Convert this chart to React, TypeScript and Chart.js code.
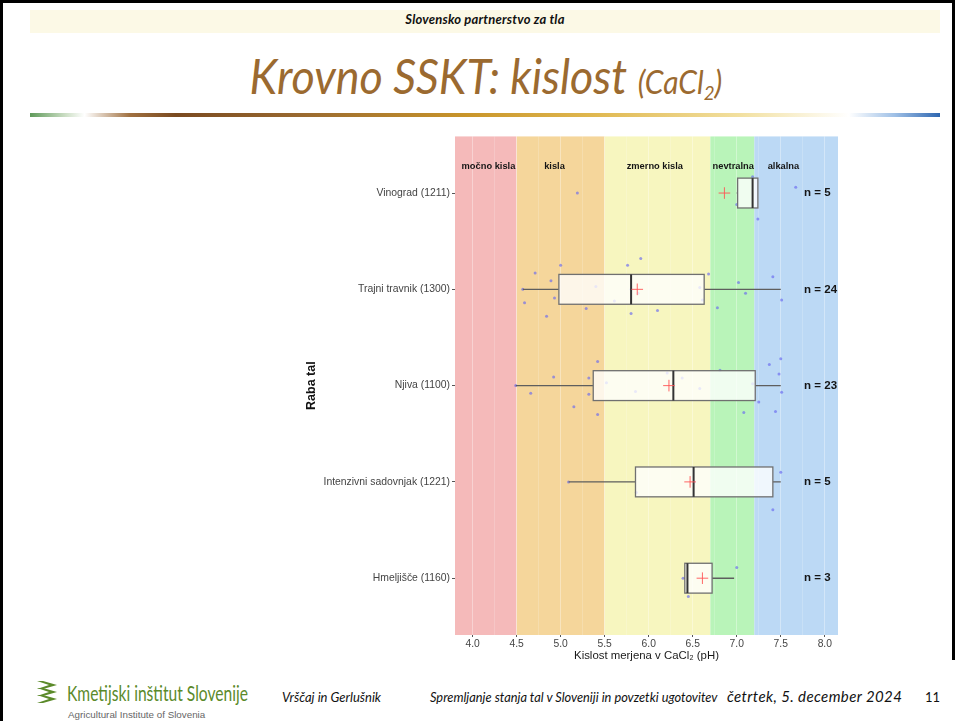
import React, { useEffect, useRef } from "react";
import { Chart, registerables } from "chart.js";

Chart.register(...registerables);

// ---------- data ----------
const categories = [
  "Vinograd (1211)",
  "Trajni travnik (1300)",
  "Njiva (1100)",
  "Intenzivni sadovnjak (1221)",
  "Hmeljišče (1160)",
];
const counts = [5, 24, 23, 5, 3];
const whiskerLow = [7.0, 4.57, 4.49, 5.09, 6.4];
const q1 = [7.01, 4.98, 5.37, 5.85, 6.41];
const median = [7.18, 5.8, 6.28, 6.51, 6.44];
const q3 = [7.24, 6.63, 7.21, 7.41, 6.72];
const whiskerHigh = [7.24, 7.5, 7.5, 7.5, 6.97];
const means = [6.86, 5.87, 6.23, 6.47, 6.61];

// jittered observations (pH) and their vertical jitter (category units)
const vinogradPH = [5.19, 7.18, 7.0, 7.24, 7.67];
const vinogradJit = [0.0, -0.17, 0.12, 0.27, -0.06];
const travnikPH = [5.0, 4.71, 4.89, 4.57, 4.93, 4.59, 4.84, 5.29, 5.4, 5.61, 5.76, 5.91, 5.8, 5.88, 6.1, 6.58, 6.61, 6.68, 6.78, 7.02, 7.1, 7.41, 7.51, 5.8];
const travnikJit = [-0.25, -0.17, -0.09, 0.0, 0.09, 0.14, 0.28, 0.2, -0.03, 0.12, -0.25, -0.32, 0.25, 0.04, 0.22, -0.02, 0.11, -0.16, 0.19, -0.07, 0.04, -0.13, 0.11, 0.0];
const njivaPH = [5.42, 4.92, 5.32, 5.52, 4.49, 4.66, 5.32, 5.15, 5.42, 5.85, 6.21, 6.38, 6.58, 6.81, 7.08, 7.18, 7.25, 7.37, 7.5, 7.48, 7.51, 7.44, 6.28];
const njivaJit = [-0.25, -0.09, -0.08, -0.03, 0.0, 0.08, 0.09, 0.22, 0.3, 0.06, -0.13, -0.08, 0.03, -0.16, 0.28, -0.02, 0.17, -0.22, -0.28, -0.12, 0.07, 0.27, 0.0];
const sadovnjakPH = [5.09, 7.5, 7.41, 5.86, 6.52];
const sadovnjakJit = [0.0, -0.1, 0.29, 0.11, 0.0];
const hmeljiscePH = [7.0, 6.39, 6.45];
const hmeljisceJit = [-0.11, 0.0, 0.19];

const observationsPH = [vinogradPH, travnikPH, njivaPH, sadovnjakPH, hmeljiscePH];
const observationsJit = [vinogradJit, travnikJit, njivaJit, sadovnjakJit, hmeljisceJit];

// acidity classes
const bandLabels = ["močno kisla", "kisla", "zmerno kisla", "nevtralna", "alkalna"];
const bandFrom = [3.0, 4.5, 5.5, 6.7, 7.2];
const bandTo = [4.5, 5.5, 6.7, 7.2, 9.0];
const bandLabelX = [4.18, 4.93, 6.07, 6.96, 7.53];
const bandColors = ["#f5baba", "#f5d69b", "#f7f6bf", "#b9f4b9", "#bcd9f5"];

const xTicks = [4.0, 4.5, 5.0, 5.5, 6.0, 6.5, 7.0, 7.5, 8.0];
const xMinorTicks = [4.25, 4.75, 5.25, 5.75, 6.25, 6.75, 7.25, 7.75];

const X_MIN = 3.8;
const X_MAX = 8.15;
const Y_MIN = -0.59;
const Y_MAX = 4.59;
const N_LABEL_X = 7.765;
const BAND_LABEL_Y = -0.275;
const BOX_HALF = 0.155;

const AXIS_FONT = "'Liberation Sans', Arial, sans-serif";

function BoxChart() {
  const ref = useRef<HTMLCanvasElement>(null);

  useEffect(() => {
    const canvas = ref.current;
    if (!canvas) return;

    const jitterData: { x: number; y: number }[] = [];
    observationsPH.forEach((arr, i) => {
      arr.forEach((v, j) => jitterData.push({ x: v, y: i + observationsJit[i][j] }));
    });
    const meanData = means.map((m, i) => ({ x: m, y: i }));

    const bandsPlugin = {
      id: "bands",
      beforeDraw(chart: any) {
        const { ctx, chartArea: a, scales } = chart;
        const x = scales.x;
        ctx.save();
        ctx.beginPath();
        ctx.rect(a.left, a.top, a.right - a.left, a.bottom - a.top);
        ctx.clip();
        for (let i = 0; i < bandFrom.length; i++) {
          const x0 = x.getPixelForValue(bandFrom[i]);
          const x1 = x.getPixelForValue(bandTo[i]);
          ctx.fillStyle = bandColors[i];
          ctx.fillRect(x0, a.top, x1 - x0, a.bottom - a.top);
        }
        ctx.restore();
      },
      beforeDatasetsDraw(chart: any) {
        const { ctx, scales } = chart;
        const x = scales.x;
        const y = scales.y;
        ctx.save();
        ctx.fillStyle = "#151515";
        ctx.textAlign = "center";
        ctx.textBaseline = "middle";
        ctx.font = `bold 9.3px ${AXIS_FONT}`;
        bandLabels.forEach((t, i) => {
          ctx.fillText(t, x.getPixelForValue(bandLabelX[i]), y.getPixelForValue(BAND_LABEL_Y));
        });
        ctx.font = `bold 11.5px ${AXIS_FONT}`;
        ctx.textAlign = "left";
        counts.forEach((n, i) => {
          ctx.fillText(`n = ${n}`, x.getPixelForValue(N_LABEL_X), y.getPixelForValue(i));
        });
        ctx.restore();
      },
      afterDatasetDraw(chart: any, args: any) {
        if (args.index !== 0) return;
        const { ctx, scales } = chart;
        const x = scales.x;
        const y = scales.y;
        ctx.save();
        for (let i = 0; i < categories.length; i++) {
          const yc = y.getPixelForValue(i);
          const yt = y.getPixelForValue(i - BOX_HALF);
          const yb = y.getPixelForValue(i + BOX_HALF);
          // whiskers
          ctx.strokeStyle = "#5e5e5e";
          ctx.lineWidth = 1.4;
          ctx.beginPath();
          ctx.moveTo(x.getPixelForValue(whiskerLow[i]), yc);
          ctx.lineTo(x.getPixelForValue(q1[i]), yc);
          ctx.moveTo(x.getPixelForValue(q3[i]), yc);
          ctx.lineTo(x.getPixelForValue(whiskerHigh[i]), yc);
          ctx.stroke();
          // box
          const xl = x.getPixelForValue(q1[i]);
          const xr = x.getPixelForValue(q3[i]);
          ctx.fillStyle = "rgba(255,255,255,0.78)";
          ctx.fillRect(xl, yt, xr - xl, yb - yt);
          ctx.strokeStyle = "#707070";
          ctx.lineWidth = 1.3;
          ctx.strokeRect(xl, yt, xr - xl, yb - yt);
          // median
          const xm = x.getPixelForValue(median[i]);
          ctx.strokeStyle = "#333";
          ctx.lineWidth = 2;
          ctx.beginPath();
          ctx.moveTo(xm, yt);
          ctx.lineTo(xm, yb);
          ctx.stroke();
        }
        ctx.restore();
      },
    };

    const chart = new Chart(canvas, {
      type: "scatter",
      data: {
        datasets: [
          {
            label: "obs",
            data: jitterData,
            order: 2,
            pointRadius: 1.5,
            pointBackgroundColor: "rgba(105,105,240,0.65)",
            pointBorderWidth: 0,
          },
          {
            label: "mean",
            data: meanData,
            order: 1,
            pointStyle: "cross",
            pointRadius: 5.8,
            pointBorderColor: "rgba(255,85,85,0.9)",
            pointBorderWidth: 1,
          },
        ],
      },
      plugins: [bandsPlugin],
      options: {
        animation: false,
        responsive: false,
        devicePixelRatio: 1,
        events: [],
        layout: { padding: { top: 8, right: 12, left: 0, bottom: 0 } },
        plugins: { legend: { display: false }, tooltip: { enabled: false } },
        scales: {
          x: {
            type: "linear",
            min: X_MIN,
            max: X_MAX,
            afterBuildTicks(scale: any) {
              scale.ticks = [...xTicks, ...xMinorTicks]
                .sort((a, b) => a - b)
                .map((v) => ({ value: v }));
            },
            afterFit(scale: any) {
              scale.height = 28;
            },
            border: { display: false },
            grid: {
              color: (c: any) =>
                xTicks.includes(c.tick?.value) ? "rgba(255,255,255,0.35)" : "rgba(255,255,255,0.18)",
              tickColor: (c: any) => (xTicks.includes(c.tick?.value) ? "#555" : "rgba(0,0,0,0)"),
              tickLength: 2,
              lineWidth: 1,
            },
            ticks: {
              autoSkip: false,
              maxRotation: 0,
              padding: 1,
              color: "#444",
              font: { family: AXIS_FONT, size: 10.3 },
              callback: (v: any) => (xTicks.includes(Number(v)) ? Number(v).toFixed(1) : ""),
            },
            title: {
              display: true,
              text: "Kislost merjena v CaCl₂ (pH)",
              color: "#1a1a1a",
              font: { family: AXIS_FONT, size: 11.4 },
              padding: { top: 0, bottom: 0 },
            },
          },
          y: {
            type: "linear",
            reverse: true,
            min: Y_MIN,
            max: Y_MAX,
            afterBuildTicks(scale: any) {
              scale.ticks = categories.map((_, i) => ({ value: i }));
            },
            afterFit(scale: any) {
              scale.width = 155;
            },
            border: { display: false },
            grid: { drawOnChartArea: false, tickColor: "#555", tickLength: 3 },
            ticks: {
              autoSkip: false,
              padding: 2,
              color: "#444",
              font: { family: AXIS_FONT, size: 10.4 },
              callback: (v: any) => categories[Number(v)] ?? "",
            },
            title: {
              display: true,
              text: "Raba tal",
              color: "#111",
              font: { family: AXIS_FONT, size: 12.5, weight: "bold" },
              padding: { top: 4, bottom: 0 },
            },
          },
        },
      },
    });
    return () => chart.destroy();
  }, []);

  return <canvas ref={ref} width={550} height={535} style={{ display: "block", width: 550, height: 535 }} />;
}

function Logo() {
  return (
    <svg width="30" height="24" viewBox="0 0 30 24" style={{ position: "absolute", left: 35, top: 680 }}>
      {[0, 7, 14].map((dy, i) => (
        <polygon key={i} points={`${2},${dy + 1} ${8},${dy + 1} ${22},${dy + 5} ${8},${dy + 9} ${2},${dy + 9} ${14},${dy + 5}`} fill="#5b8a2a" />
      ))}
    </svg>
  );
}

export default function App() {
  const footerItalic: React.CSSProperties = {
    position: "absolute",
    fontFamily: "Lato, 'Open Sans', sans-serif",
    fontStyle: "italic",
    fontSize: 13,
    color: "#111",
    whiteSpace: "nowrap",
    lineHeight: "16px",
  };
  return (
    <div
      style={{
        position: "absolute",
        left: 0,
        top: 0,
        width: 955,
        height: 721,
        background: "#fff",
        overflow: "hidden",
        fontFamily: "Lato, sans-serif",
      }}
    >
      {/* frame */}
      <div style={{ position: "absolute", left: 0, top: 0, width: 3, height: 721, background: "#000" }} />
      <div style={{ position: "absolute", left: 0, top: 0, width: 955, height: 3, background: "#000" }} />
      <div style={{ position: "absolute", left: 952, top: 0, width: 3, height: 660, background: "#000" }} />

      {/* header band */}
      <div
        style={{
          position: "absolute",
          left: 30,
          top: 10,
          width: 910,
          height: 23,
          background: "#fcf9e6",
          textAlign: "center",
          fontWeight: 700,
          fontStyle: "italic",
          fontSize: 13,
          letterSpacing: 0.2,
          lineHeight: "18px",
          color: "#111",
        }}
      >
        Slovensko partnerstvo za tla
      </div>

      {/* title */}
      <div
        style={{
          position: "absolute",
          left: 0,
          top: 47,
          width: 972,
          textAlign: "center",
          color: "#9b6a30",
          fontStyle: "italic",
          whiteSpace: "nowrap",
          lineHeight: "58px",
        }}
      >
        <span style={{ display: "inline-block", transform: "scaleX(0.935)", transformOrigin: "center" }}>
          <span style={{ fontSize: 48 }}>Krovno SSKT: kislost </span>
          <span style={{ fontSize: 32 }}>
            (CaCl<sub style={{ fontSize: 20, verticalAlign: -6 }}>2</sub>)
          </span>
        </span>
      </div>

      {/* gradient rule */}
      <div
        style={{
          position: "absolute",
          left: 30,
          top: 113,
          width: 910,
          height: 4,
          background:
            "linear-gradient(to right, #5f9a5a 0%, #cfe0c8 4%, #ffffff 6%, #a07040 11%, #7a4a20 16%, #9a6a30 30%, #c9952a 48%, #e0b850 62%, #f2e0a0 78%, #ffffff 90%, #9fc0e6 95%, #2e66b0 100%)",
        }}
      />

      {/* chart */}
      <div style={{ position: "absolute", left: 300, top: 128, width: 550, height: 535 }}>
        <BoxChart />
      </div>

      {/* footer */}
      <Logo />
      <div
        style={{
          position: "absolute",
          left: 67,
          top: 681,
          fontFamily: "Lato, sans-serif",
          fontSize: 21,
          lineHeight: "24px",
          color: "#5b8a2a",
          whiteSpace: "nowrap",
          transform: "scaleX(0.743)",
          transformOrigin: "left center",
        }}
      >
        Kmetijski inštitut Slovenije
      </div>
      <div
        style={{
          position: "absolute",
          left: 68,
          top: 709,
          fontFamily: "'Liberation Sans', Arial, sans-serif",
          fontSize: 9.8,
          lineHeight: "11px",
          color: "#666",
          whiteSpace: "nowrap",
        }}
      >
        Agricultural Institute of Slovenia
      </div>
      <div style={{ ...footerItalic, left: 282, top: 689 }}>Vrščaj in Gerlušnik</div>
      <div style={{ ...footerItalic, fontSize: 12.8, left: 430, top: 689 }}>
        Spremljanje stanja tal v Sloveniji in povzetki ugotovitev
      </div>
      <div style={{ ...footerItalic, fontSize: 15, letterSpacing: 0.4, left: 727, top: 688 }}>četrtek, 5. december 2024</div>
      <div style={{ ...footerItalic, fontStyle: "normal", fontSize: 13, left: 925, top: 689 }}>11</div>
    </div>
  );
}
